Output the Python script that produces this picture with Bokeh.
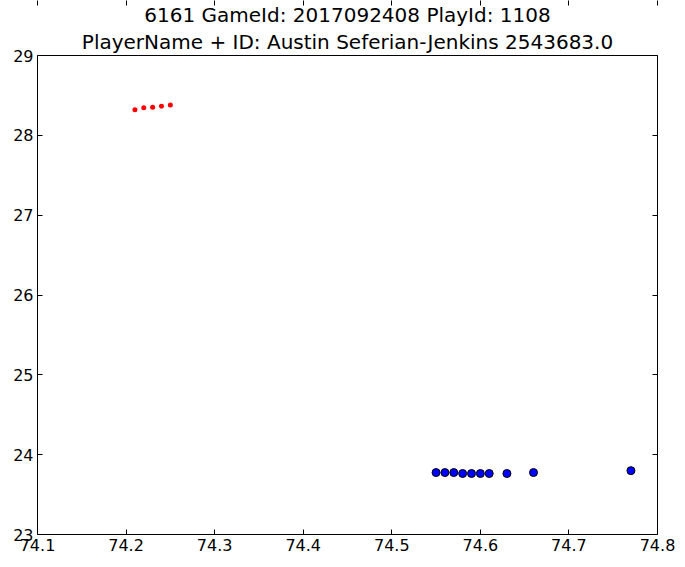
from bokeh.embed import file_html
from bokeh.resources import INLINE
from bokeh.plotting import figure
from bokeh.models import Title, LinearAxis, FixedTicker, Range1d, CustomLabelingPolicy

# red track (first player)
red_x = [74.21, 74.22, 74.23, 74.24, 74.25]
red_y = [28.32, 28.345, 28.353, 28.365, 28.38]

# blue track (second player)
blue_x = [74.55, 74.56, 74.57, 74.58, 74.59, 74.60, 74.61, 74.63, 74.66, 74.77]
blue_y = [23.776, 23.776, 23.776, 23.764, 23.764, 23.764, 23.764, 23.764, 23.776, 23.80]

x_ticks = [74.1, 74.2, 74.3, 74.4, 74.5, 74.6, 74.7, 74.8]
y_ticks = [23, 24, 25, 26, 27, 28, 29]

title_lines = ["6161 GameId: 2017092408 PlayId: 1108",
               "PlayerName + ID: Austin Seferian-Jenkins 2543683.0"]

FONT = "DejaVu Sans"

p = figure(frame_width=620, frame_height=479,
           x_range=Range1d(74.1, 74.8), y_range=Range1d(23, 29),
           output_backend="svg", toolbar_location=None,
           min_border_left=37, min_border_right=28, min_border_bottom=30,
           min_border_top=0, title=None)

# two title lines, the second one added first so it sits closest to the plot
sub = Title(text=title_lines[1], align="center", text_font=FONT,
            text_font_size="20px", text_font_style="normal",
            text_color="black", standoff=3, offset=0)
main = Title(text=title_lines[0], align="center", text_font=FONT,
             text_font_size="20px", text_font_style="normal",
             text_color="black", standoff=0, offset=0, text_line_height=0.8)
p.add_layout(sub, "above")
p.add_layout(main, "above")

p.xgrid.visible = False
p.ygrid.visible = False
p.outline_line_color = "black"
p.outline_line_width = 1
p.background_fill_color = "white"
p.border_fill_color = "white"

# mirror axes with ticks only (no labels drawn)
no_labels = CustomLabelingPolicy(code="for (const i of [...indices]) { indices.unset(i) }; return indices")
top_axis = LinearAxis(major_label_policy=no_labels)
right_axis = LinearAxis(major_label_policy=no_labels)
p.add_layout(top_axis, "above")
p.add_layout(right_axis, "right")

for ax in p.xaxis:
    ax.ticker = FixedTicker(ticks=x_ticks)
for ax in p.yaxis:
    ax.ticker = FixedTicker(ticks=y_ticks)

for ax in p.axis:
    ax.axis_line_color = None
    ax.major_tick_in = 5
    ax.major_tick_out = 0
    ax.major_tick_line_color = "black"
    ax.minor_tick_line_color = None
    ax.major_label_text_font = FONT
    ax.major_label_text_font_size = "16px"
    ax.major_label_text_color = "black"
    ax.major_label_standoff = 4

for ax in (top_axis, right_axis):
    ax.major_label_text_font_size = "0px"
    ax.major_label_standoff = 0

p.scatter(red_x, red_y, size=5, fill_color="red", line_color=None)
p.scatter(blue_x, blue_y, size=8, fill_color="blue", line_color="black",
          line_width=1)

open("out.html", "w").write(file_html(p, INLINE))
